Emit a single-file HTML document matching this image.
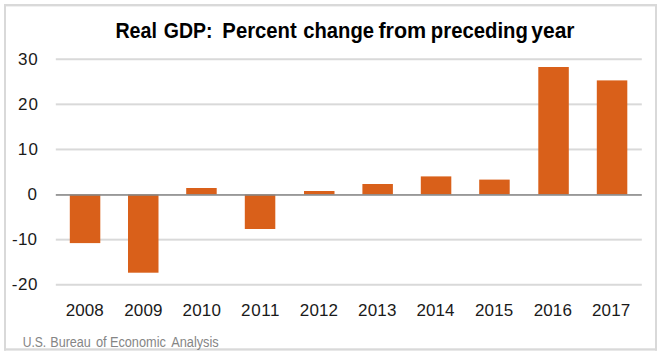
<!DOCTYPE html>
<html><head><meta charset="utf-8">
<style>
html,body{margin:0;padding:0;background:#fff;}
body{width:662px;height:360px;overflow:hidden;position:relative;}
svg{position:absolute;left:0;top:0;}
text{font-family:"Liberation Sans",sans-serif;}
</style></head><body>
<svg width="662" height="360" viewBox="0 0 662 360">
<rect x="0" y="0" width="662" height="360" fill="#fff"/>
<g fill="#d9d9d9">
<rect x="4.00" y="4.00" width="653.00" height="2.40"/>
<rect x="4.00" y="348.30" width="653.00" height="2.30"/>
<rect x="4.00" y="4.00" width="2.00" height="346.60"/>
<rect x="655.00" y="4.00" width="2.00" height="346.60"/>
</g>
<g fill="#d9d9d9">
<rect x="55.8" y="58.25" width="586" height="2.00"/>
<rect x="55.8" y="103.35" width="586" height="2.00"/>
<rect x="55.8" y="148.45" width="586" height="2.00"/>
<rect x="55.8" y="238.65" width="586" height="2.00"/>
<rect x="55.8" y="283.75" width="586" height="2.00"/>
</g>
<g fill="#d9601a">
<rect x="69.80" y="194.55" width="30.50" height="48.55"/>
<rect x="128.00" y="194.55" width="30.50" height="78.15"/>
<rect x="186.20" y="188.00" width="30.50" height="6.55"/>
<rect x="244.80" y="194.55" width="30.50" height="34.45"/>
<rect x="304.00" y="191.00" width="30.50" height="3.55"/>
<rect x="362.40" y="184.00" width="30.50" height="10.55"/>
<rect x="420.80" y="176.40" width="30.50" height="18.15"/>
<rect x="479.20" y="179.60" width="30.50" height="14.95"/>
<rect x="538.30" y="67.00" width="30.50" height="127.55"/>
<rect x="596.80" y="80.40" width="30.50" height="114.15"/>
</g>
<rect x="55.8" y="194.15" width="586" height="1.60" fill="#878787"/>
<g font-size="21.2" font-weight="bold" fill="#000">
<text x="115.43" y="38.30" textLength="41.47" lengthAdjust="spacingAndGlyphs">Real</text>
<text x="163.72" y="38.30" textLength="48.73" lengthAdjust="spacingAndGlyphs">GDP:</text>
<text x="222.36" y="38.30" textLength="74.38" lengthAdjust="spacingAndGlyphs">Percent</text>
<text x="303.29" y="38.30" textLength="70.79" lengthAdjust="spacingAndGlyphs">change</text>
<text x="378.40" y="38.30" textLength="47.84" lengthAdjust="spacingAndGlyphs">from</text>
<text x="430.86" y="38.30" textLength="97.01" lengthAdjust="spacingAndGlyphs">preceding</text>
<text x="531.32" y="38.30" textLength="43.24" lengthAdjust="spacingAndGlyphs">year</text>
</g>
<g font-size="17" fill="#1a1a1a">
<text x="18.06" y="64.80" textLength="19.77" lengthAdjust="spacing">30</text>
<text x="18.05" y="109.90" textLength="19.84" lengthAdjust="spacing">20</text>
<text x="17.64" y="155.00" textLength="20.40" lengthAdjust="spacing">10</text>
<text x="27.56" y="200.10" textLength="11.71" lengthAdjust="spacing">0</text>
<text x="12.00" y="245.20" textLength="25.05" lengthAdjust="spacing">-10</text>
<text x="11.84" y="290.30" textLength="25.73" lengthAdjust="spacing">-20</text>
<text x="65.79" y="316.20" textLength="38.01" lengthAdjust="spacing">2008</text>
<text x="124.15" y="316.20" textLength="38.31" lengthAdjust="spacing">2009</text>
<text x="182.58" y="316.20" textLength="38.33" lengthAdjust="spacing">2010</text>
<text x="241.04" y="316.20" textLength="38.48" lengthAdjust="spacing">2011</text>
<text x="299.78" y="316.20" textLength="38.29" lengthAdjust="spacing">2012</text>
<text x="357.98" y="316.20" textLength="38.48" lengthAdjust="spacing">2013</text>
<text x="416.56" y="316.20" textLength="37.84" lengthAdjust="spacing">2014</text>
<text x="475.00" y="316.20" textLength="38.24" lengthAdjust="spacing">2015</text>
<text x="533.72" y="316.20" textLength="38.19" lengthAdjust="spacing">2016</text>
<text x="592.01" y="316.20" textLength="38.26" lengthAdjust="spacing">2017</text>
</g>
<g font-size="14" fill="#858585">
<text x="22.65" y="346.90" textLength="23.53" lengthAdjust="spacingAndGlyphs">U.S.</text>
<text x="50.25" y="346.90" textLength="40.60" lengthAdjust="spacingAndGlyphs">Bureau</text>
<text x="95.88" y="346.90" textLength="10.76" lengthAdjust="spacingAndGlyphs">of</text>
<text x="109.89" y="346.90" textLength="55.96" lengthAdjust="spacingAndGlyphs">Economic</text>
<text x="171.13" y="346.90" textLength="47.64" lengthAdjust="spacingAndGlyphs">Analysis</text>
</g>
</svg>
</body></html>
